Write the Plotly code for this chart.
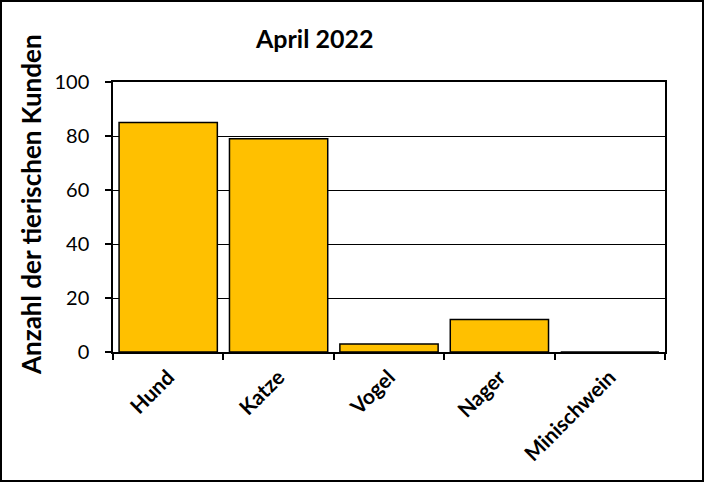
import plotly.graph_objects as go

categories = ["Hund", "Katze", "Vogel", "Nager", "Minischwein"]
values = [85, 79, 3, 12, 0]
y_ticks = [0, 20, 40, 60, 80, 100]
title_text = "April 2022"
y_title = "Anzahl der tierischen Kunden"

W, H = 704, 482
L, R, T, B = 113, 39, 82, 130
pw, ph = W - L - R, H - T - B

fig = go.Figure(go.Bar(
    x=categories, y=values,
    marker=dict(color="#FFC000", line=dict(color="black", width=1.5)),
))

fig.update_layout(
    width=W, height=H,
    margin=dict(l=L, r=R, t=T, b=B, pad=0),
    paper_bgcolor="white", plot_bgcolor="white",
    bargap=0.11,
    showlegend=False,
    font=dict(family="Lato", color="black"),
    xaxis=dict(
        showline=True, linecolor="black", linewidth=1.5, mirror=True,
        ticks="outside", ticklen=6, tickcolor="black", tickwidth=1.5,
        tickson="boundaries", tickangle=-45, ticklabelstandoff=3,
        tickfont=dict(family="Lato", size=21, color="black", weight="bold"),
        showgrid=False,
    ),
    yaxis=dict(
        range=[0, 100], tickvals=y_ticks,
        showline=True, linecolor="black", linewidth=1.5, mirror=True,
        ticks="outside", ticklen=6, tickcolor="black", tickwidth=1.5,
        ticklabelstandoff=12,
        tickfont=dict(family="Lato", size=20, color="black"),
        showgrid=True, gridcolor="black", gridwidth=1,
        zeroline=False,
    ),
    annotations=[
        dict(text=f"<b>{title_text}</b>", xref="paper", yref="paper",
             x=(314 - L) / pw, y=1 + (T - 38) / ph, showarrow=False,
             xanchor="center", yanchor="middle",
             font=dict(family="Lato", size=25, color="black")),
        dict(text=f"<b>{y_title}</b>", xref="paper", yref="paper",
             x=(31 - L) / pw, y=(T + ph - 205) / ph, showarrow=False,
             textangle=-90, xanchor="center", yanchor="middle",
             font=dict(family="Lato", size=26, color="black")),
    ],
    shapes=[
        dict(type="rect", xref="paper", yref="paper",
             x0=(1 - L) / pw, x1=(W - 1 - L) / pw,
             y0=-(B - 1) / ph, y1=1 + (T - 1) / ph,
             line=dict(color="black", width=2), layer="above"),
    ],
)

fig.write_html("out.html", config={"displayModeBar": False},
               post_script="document.body.style.margin='0';")
